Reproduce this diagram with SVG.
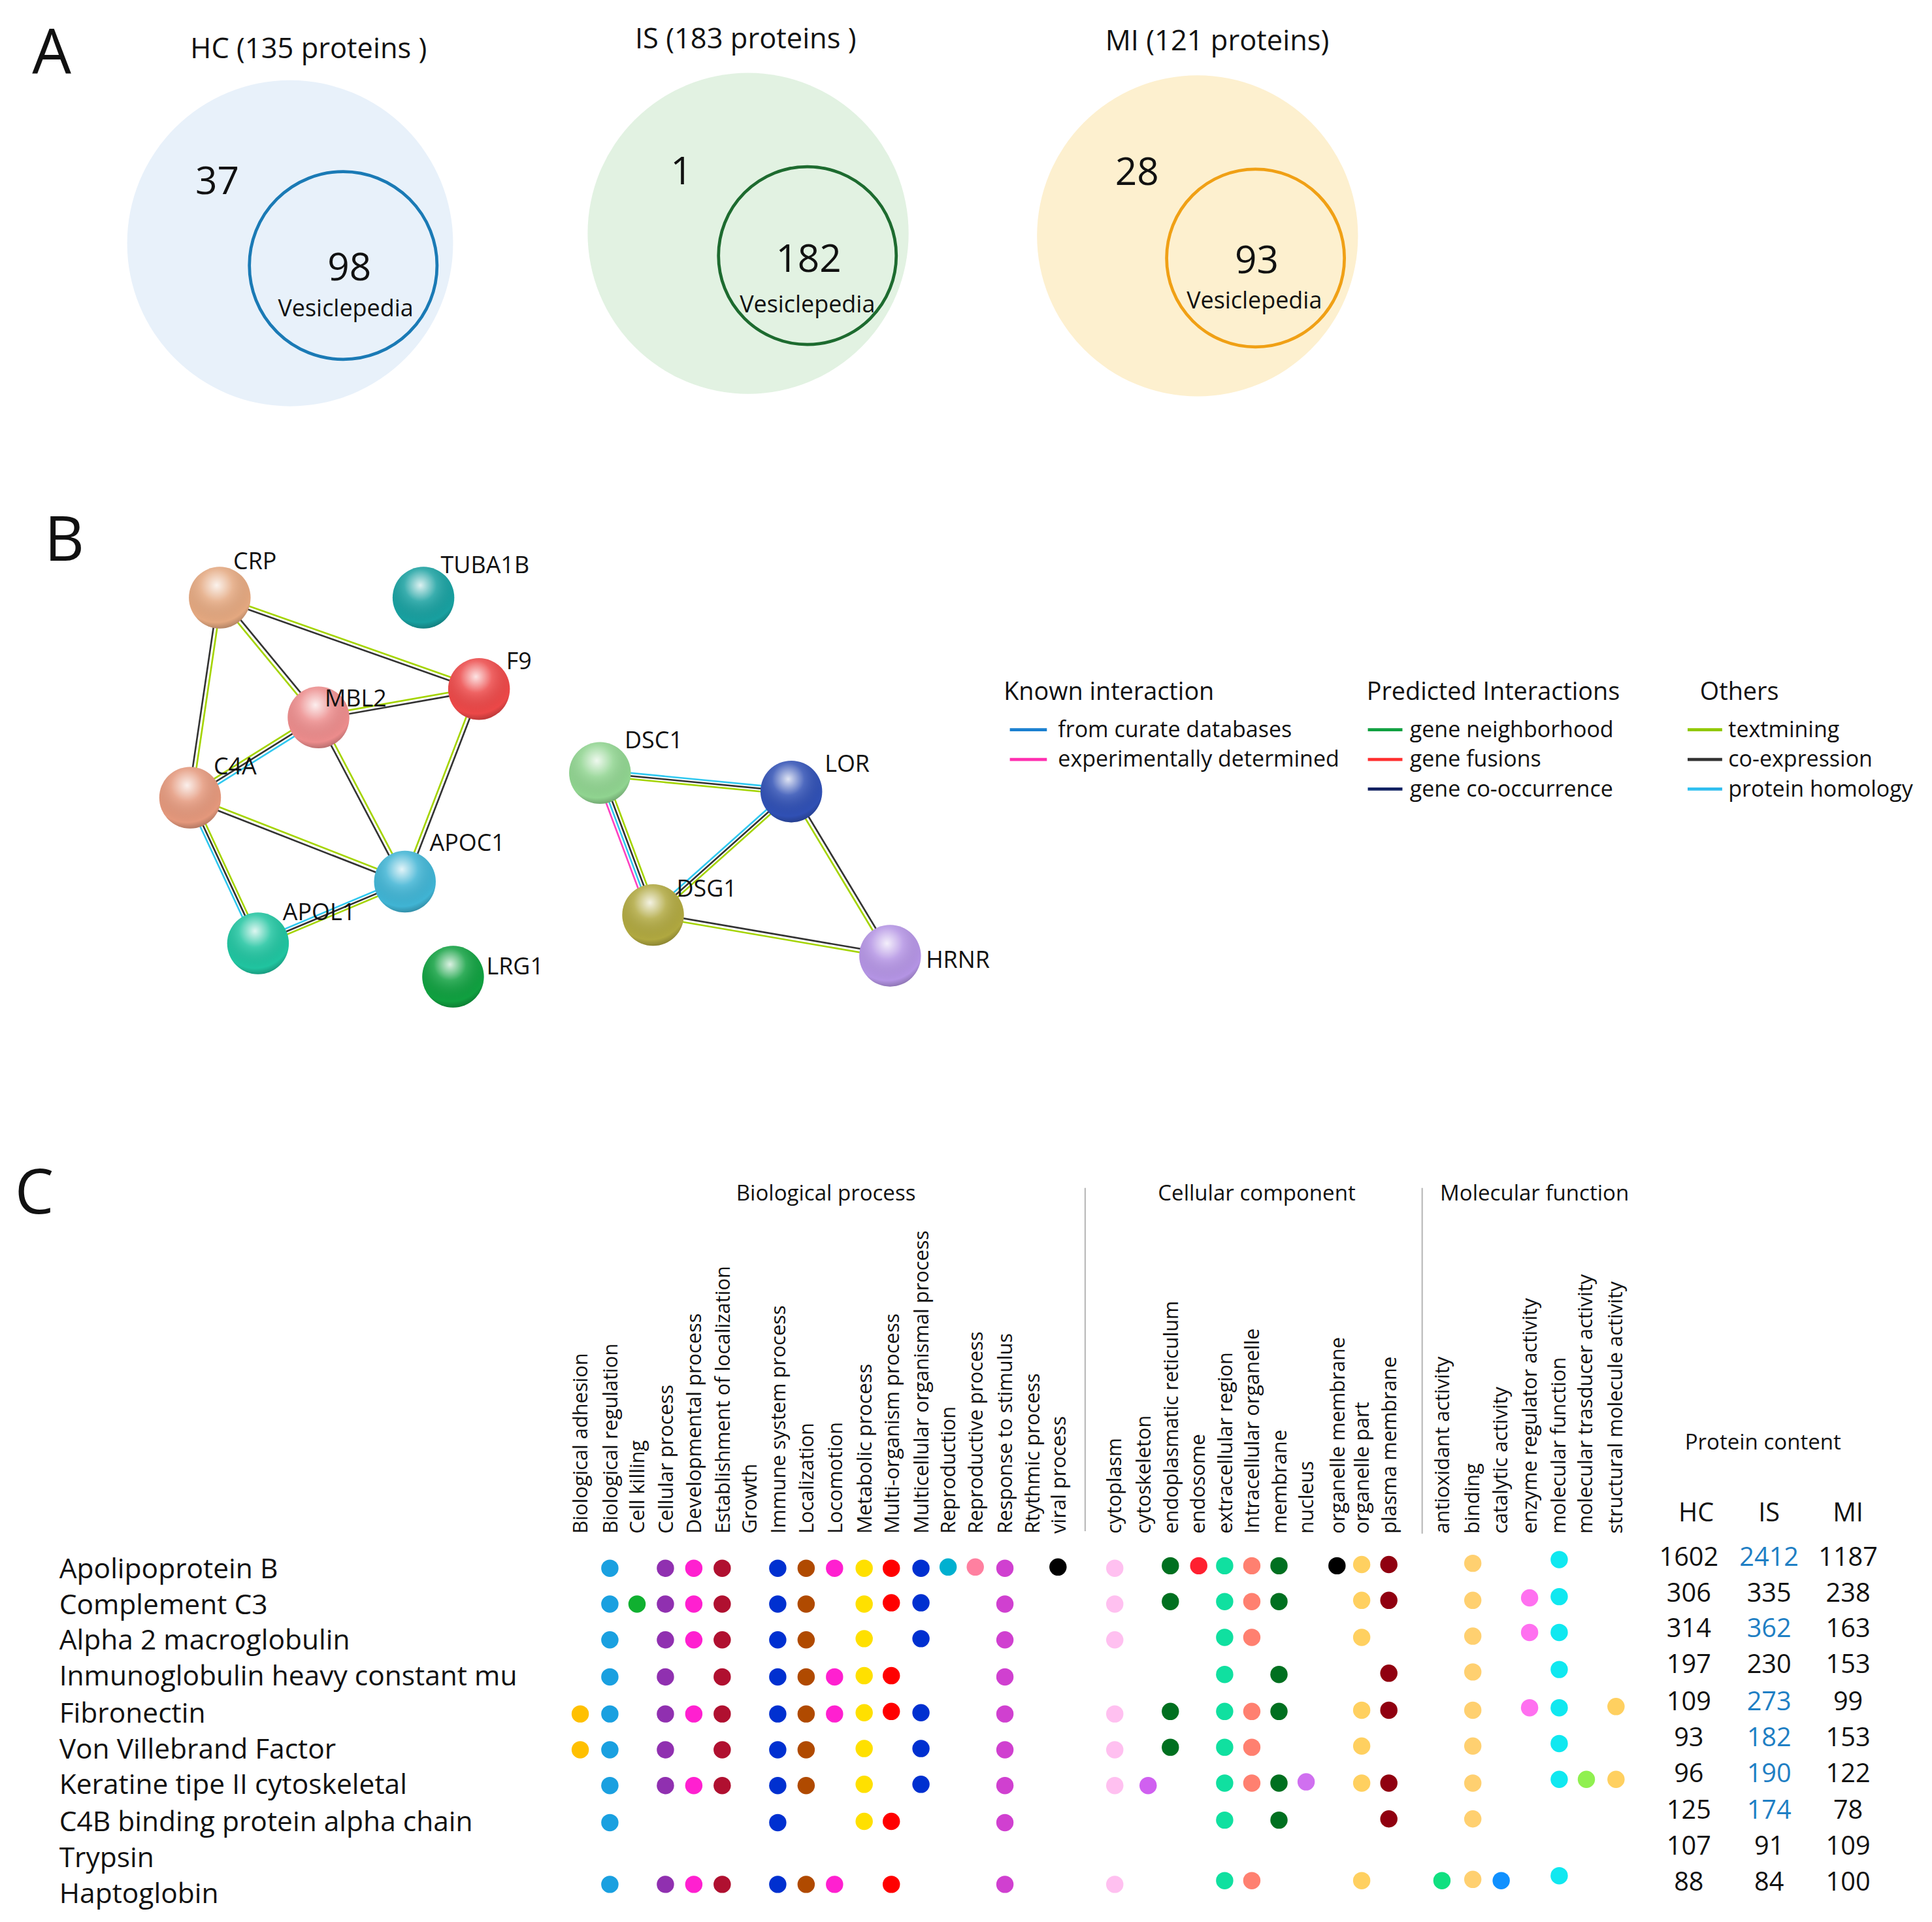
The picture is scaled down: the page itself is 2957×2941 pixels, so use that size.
<svg xmlns="http://www.w3.org/2000/svg" width="2957" height="2941" viewBox="0 0 2957 2941">
<style>
text{font-family:"Open Sans","Noto Sans","Liberation Sans",sans-serif;fill:#111}
.ttl{font-size:23px;text-anchor:middle}
.big{font-size:31px;text-anchor:middle}
.ves{font-size:19px;text-anchor:middle}
.pl{font-size:50px}
.nl{font-size:19px}
.lg{font-size:18px}
.lh{font-size:20px}
.g{stroke:#a4d400;stroke-width:1.4;fill:none}
.d{stroke:#333;stroke-width:1.4;fill:none}
.c{stroke:#30c8f0;stroke-width:1.4;fill:none}
.p{stroke:#ff40c0;stroke-width:1.4;fill:none}
.rl{font-size:22.5px}
.cl{font-size:16.3px}
.hd{font-size:17.5px;text-anchor:middle}
.num{font-size:21px;text-anchor:middle}
.b{fill:#1f7fc4}
</style>
<defs>
<radialGradient id="hl" cx="0.45" cy="0.3" r="0.75">
<stop offset="0" stop-color="#fff" stop-opacity="0.85"/>
<stop offset="0.35" stop-color="#fff" stop-opacity="0.15"/>
<stop offset="0.8" stop-color="#000" stop-opacity="0"/>
<stop offset="1" stop-color="#000" stop-opacity="0.3"/>
</radialGradient>
</defs>
<rect width="2957" height="2941" fill="#fff"/>
<g transform="scale(1.8895)">
<g id="panelA">
<text x="26" y="60" class="pl">A</text>
<g id="vennHC">
<circle cx="235" cy="197" r="132" fill="#e8f1fa"/>
<circle cx="278" cy="215" r="76" fill="none" stroke="#1a7ab5" stroke-width="2.5"/>
<text x="250" y="47" class="ttl">HC (135 proteins )</text>
<text x="176" y="157" class="big">37</text>
<text x="283" y="227" class="big">98</text>
<text x="280" y="256" class="ves">Vesiclepedia</text>
</g>
<g id="vennIS">
<circle cx="606" cy="189" r="130" fill="#e2f2e2"/>
<circle cx="654" cy="207" r="72" fill="none" stroke="#1d6b2f" stroke-width="2.5"/>
<text x="604" y="39" class="ttl">IS (183 proteins )</text>
<text x="552" y="149" class="big">1</text>
<text x="655" y="220" class="big">182</text>
<text x="654" y="253" class="ves">Vesiclepedia</text>
</g>
<g id="vennMI">
<circle cx="970" cy="191" r="130" fill="#fdf0cf"/>
<circle cx="1017" cy="209" r="72" fill="none" stroke="#f0a015" stroke-width="2.5"/>
<text x="986" y="41" class="ttl">MI (121 proteins)</text>
<text x="921" y="150" class="big">28</text>
<text x="1018" y="221" class="big">93</text>
<text x="1016" y="250" class="ves">Vesiclepedia</text>
</g>
</g>
<text x="36" y="454" class="pl">B</text>
<g id="connectors">
<line x1="178" y1="484" x2="388" y2="558" class="g" transform="translate(0,-1.5)"/><line x1="178" y1="484" x2="388" y2="558" class="d" transform="translate(0,1.5)"/>
<line x1="178" y1="484" x2="258" y2="581" class="g" transform="translate(-1.2,1)"/><line x1="178" y1="484" x2="258" y2="581" class="d" transform="translate(1.2,-1)"/>
<line x1="178" y1="484" x2="154" y2="646" class="g" transform="translate(1.5,0)"/><line x1="178" y1="484" x2="154" y2="646" class="d" transform="translate(-1.5,0)"/>
<line x1="258" y1="581" x2="388" y2="558" class="g" transform="translate(0,-1.5)"/><line x1="258" y1="581" x2="388" y2="558" class="d" transform="translate(0,1.5)"/>
<line x1="258" y1="581" x2="154" y2="646" class="g" transform="translate(-1.5,-2.2)"/><line x1="258" y1="581" x2="154" y2="646" class="d"/><line x1="258" y1="581" x2="154" y2="646" class="c" transform="translate(1.5,2.2)"/>
<line x1="258" y1="581" x2="328" y2="714" class="g" transform="translate(1.3,-0.7)"/><line x1="258" y1="581" x2="328" y2="714" class="d" transform="translate(-1.3,0.7)"/>
<line x1="388" y1="558" x2="328" y2="714" class="g" transform="translate(-1.4,-0.5)"/><line x1="388" y1="558" x2="328" y2="714" class="d" transform="translate(1.4,0.5)"/>
<line x1="154" y1="646" x2="328" y2="714" class="g" transform="translate(0.6,-1.4)"/><line x1="154" y1="646" x2="328" y2="714" class="d" transform="translate(-0.6,1.4)"/>
<line x1="154" y1="646" x2="209" y2="764" class="g" transform="translate(2.2,-1)"/><line x1="154" y1="646" x2="209" y2="764" class="d"/><line x1="154" y1="646" x2="209" y2="764" class="c" transform="translate(-2.2,1)"/>
<line x1="209" y1="764" x2="328" y2="714" class="g" transform="translate(0.9,2.2)"/><line x1="209" y1="764" x2="328" y2="714" class="d"/><line x1="209" y1="764" x2="328" y2="714" class="c" transform="translate(-0.9,-2.2)"/>
<line x1="486" y1="626" x2="641" y2="641" class="g" transform="translate(0,2.4)"/><line x1="486" y1="626" x2="641" y2="641" class="d"/><line x1="486" y1="626" x2="641" y2="641" class="c" transform="translate(0,-2.4)"/>
<line x1="486" y1="626" x2="529" y2="741" class="p" transform="translate(-3.6,1.2)"/><line x1="486" y1="626" x2="529" y2="741" class="c" transform="translate(-1.2,0.4)"/><line x1="486" y1="626" x2="529" y2="741" class="d" transform="translate(1.2,-0.4)"/><line x1="486" y1="626" x2="529" y2="741" class="g" transform="translate(3.6,-1.2)"/>
<line x1="641" y1="641" x2="529" y2="741" class="g" transform="translate(1.6,1.8)"/><line x1="641" y1="641" x2="529" y2="741" class="d"/><line x1="641" y1="641" x2="529" y2="741" class="c" transform="translate(-1.6,-1.8)"/>
<line x1="641" y1="641" x2="721" y2="774" class="g" transform="translate(-1.3,0.7)"/><line x1="641" y1="641" x2="721" y2="774" class="d" transform="translate(1.3,-0.7)"/>
<line x1="529" y1="741" x2="721" y2="774" class="g" transform="translate(0,1.5)"/><line x1="529" y1="741" x2="721" y2="774" class="d" transform="translate(0,-1.5)"/>
</g>
<g id="CRP"><circle cx="178" cy="484" r="25" fill="#e4a880"/><circle cx="178" cy="484" r="25" fill="url(#hl)"/><text x="189" y="461" class="nl">CRP</text></g>
<g id="TUBA1B"><circle cx="343" cy="484" r="25" fill="#18a0a0"/><circle cx="343" cy="484" r="25" fill="url(#hl)"/><text x="357" y="464" class="nl">TUBA1B</text></g>
<g id="F9"><circle cx="388" cy="558" r="25" fill="#ec4848"/><circle cx="388" cy="558" r="25" fill="url(#hl)"/><text x="410" y="542" class="nl">F9</text></g>
<g id="MBL2"><circle cx="258" cy="581" r="25" fill="#ec8c8c"/><circle cx="258" cy="581" r="25" fill="url(#hl)"/><text x="263" y="572" class="nl">MBL2</text></g>
<g id="C4A"><circle cx="154" cy="646" r="25" fill="#e4987c"/><circle cx="154" cy="646" r="25" fill="url(#hl)"/><text x="173" y="627" class="nl">C4A</text></g>
<g id="APOC1"><circle cx="328" cy="714" r="25" fill="#40b4d4"/><circle cx="328" cy="714" r="25" fill="url(#hl)"/><text x="348" y="689" class="nl">APOC1</text></g>
<g id="APOL1"><circle cx="209" cy="764" r="25" fill="#20c4a0"/><circle cx="209" cy="764" r="25" fill="url(#hl)"/><text x="229" y="745" class="nl">APOL1</text></g>
<g id="LRG1"><circle cx="367" cy="791" r="25" fill="#10a040"/><circle cx="367" cy="791" r="25" fill="url(#hl)"/><text x="394" y="789" class="nl">LRG1</text></g>
<g id="DSC1"><circle cx="486" cy="626" r="25" fill="#90d490"/><circle cx="486" cy="626" r="25" fill="url(#hl)"/><text x="506" y="606" class="nl">DSC1</text></g>
<g id="LOR"><circle cx="641" cy="641" r="25" fill="#3050b4"/><circle cx="641" cy="641" r="25" fill="url(#hl)"/><text x="668" y="625" class="nl">LOR</text></g>
<g id="DSG1"><circle cx="529" cy="741" r="25" fill="#b0a840"/><circle cx="529" cy="741" r="25" fill="url(#hl)"/><text x="548" y="726" class="nl">DSG1</text></g>
<g id="HRNR"><circle cx="721" cy="774" r="25" fill="#b494e4"/><circle cx="721" cy="774" r="25" fill="url(#hl)"/><text x="750" y="784" class="nl">HRNR</text></g>
<g id="legend">
<text x="813" y="567" class="lh">Known interaction</text>
<text x="1107" y="567" class="lh">Predicted Interactions</text>
<text x="1377" y="567" class="lh">Others</text>
<g stroke-width="2.5">
<line x1="818" y1="591" x2="848" y2="591" stroke="#1a80d0"/>
<line x1="818" y1="615" x2="848" y2="615" stroke="#ff30b0"/>
<line x1="1108" y1="591" x2="1136" y2="591" stroke="#10a040"/>
<line x1="1108" y1="615" x2="1136" y2="615" stroke="#ff3030"/>
<line x1="1108" y1="639" x2="1136" y2="639" stroke="#102060"/>
<line x1="1367" y1="591" x2="1395" y2="591" stroke="#90c800"/>
<line x1="1367" y1="615" x2="1395" y2="615" stroke="#333"/>
<line x1="1367" y1="639" x2="1395" y2="639" stroke="#30c0f0"/>
</g>
<text x="857" y="597" class="lg">from curate databases</text>
<text x="857" y="621" class="lg">experimentally determined</text>
<text x="1142" y="597" class="lg">gene neighborhood</text>
<text x="1142" y="621" class="lg">gene fusions</text>
<text x="1142" y="645" class="lg">gene co-occurrence</text>
<text x="1400" y="597" class="lg">textmining</text>
<text x="1400" y="621" class="lg">co-expression</text>
<text x="1400" y="645" class="lg">protein homology</text>
</g>
<g id="panelC">
<text x="12" y="983" class="pl">C</text>
<text x="669" y="972" class="hd">Biological process</text>
<text x="1018" y="972" class="hd">Cellular component</text>
<text x="1243" y="972" class="hd">Molecular function</text>
<line x1="879" y1="962" x2="879" y2="1240" stroke="#bbb" stroke-width="1.2"/>
<line x1="1152" y1="962" x2="1152" y2="1242" stroke="#bbb" stroke-width="1.2"/>
<g class="cl">
<text transform="translate(476,1242) rotate(-90)">Biological adhesion</text>
<text transform="translate(500,1242) rotate(-90)">Biological regulation</text>
<text transform="translate(522,1242) rotate(-90)">Cell killing</text>
<text transform="translate(545,1242) rotate(-90)">Cellular process</text>
<text transform="translate(568,1242) rotate(-90)">Developmental process</text>
<text transform="translate(591,1242) rotate(-90)">Establishment of localization</text>
<text transform="translate(613,1242) rotate(-90)">Growth</text>
<text transform="translate(636,1242) rotate(-90)">Immune system process</text>
<text transform="translate(659,1242) rotate(-90)">Localization</text>
<text transform="translate(682,1242) rotate(-90)">Locomotion</text>
<text transform="translate(706,1242) rotate(-90)">Metabolic process</text>
<text transform="translate(728,1242) rotate(-90)">Multi-organism process</text>
<text transform="translate(752,1242) rotate(-90)">Multicellular organismal process</text>
<text transform="translate(774,1242) rotate(-90)">Reproduction</text>
<text transform="translate(796,1242) rotate(-90)">Reproductive process</text>
<text transform="translate(820,1242) rotate(-90)">Response to stimulus</text>
<text transform="translate(842,1242) rotate(-90)">Rtythmic process</text>
<text transform="translate(863,1242) rotate(-90)">viral process</text>
<text transform="translate(908,1242) rotate(-90)">cytoplasm</text>
<text transform="translate(932,1242) rotate(-90)">cytoskeleton</text>
<text transform="translate(954,1242) rotate(-90)">endoplasmatic reticulum</text>
<text transform="translate(976,1242) rotate(-90)">endosome</text>
<text transform="translate(998,1242) rotate(-90)">extracellular region</text>
<text transform="translate(1020,1242) rotate(-90)">Intracellular organelle</text>
<text transform="translate(1042,1242) rotate(-90)">membrane</text>
<text transform="translate(1064,1242) rotate(-90)">nucleus</text>
<text transform="translate(1089,1242) rotate(-90)">organelle membrane</text>
<text transform="translate(1109,1242) rotate(-90)">organelle part</text>
<text transform="translate(1131,1242) rotate(-90)">plasma membrane</text>
<text transform="translate(1174,1242) rotate(-90)">antioxidant activity</text>
<text transform="translate(1198,1242) rotate(-90)">binding</text>
<text transform="translate(1221,1242) rotate(-90)">catalytic activity</text>
<text transform="translate(1245,1242) rotate(-90)">enzyme regulator activity</text>
<text transform="translate(1268,1242) rotate(-90)">molecular function</text>
<text transform="translate(1290,1242) rotate(-90)">molecular trasducer activity</text>
<text transform="translate(1314,1242) rotate(-90)">structural molecule activity</text>
</g>
<g class="rl">
<text x="48" y="1278">Apolipoprotein B</text>
<text x="48" y="1307">Complement C3</text>
<text x="48" y="1336">Alpha 2 macroglobulin</text>
<text x="48" y="1365">Inmunoglobulin heavy constant mu</text>
<text x="48" y="1395">Fibronectin</text>
<text x="48" y="1424">Von Villebrand Factor</text>
<text x="48" y="1453">Keratine tipe II cytoskeletal</text>
<text x="48" y="1483">C4B binding protein alpha chain</text>
<text x="48" y="1512">Trypsin</text>
<text x="48" y="1541">Haptoglobin</text>
</g>
<g id="dots">
<circle cx="494" cy="1270" r="7" fill="#1aa0e0"/><circle cx="539" cy="1270" r="7" fill="#9030b0"/><circle cx="562" cy="1270" r="7" fill="#ff20d0"/><circle cx="585" cy="1270" r="7" fill="#b01030"/><circle cx="630" cy="1270" r="7" fill="#0030d0"/><circle cx="653" cy="1270" r="7" fill="#b04a00"/><circle cx="676" cy="1270" r="7" fill="#ff20d0"/><circle cx="700" cy="1270" r="7" fill="#ffe000"/><circle cx="722" cy="1270" r="7" fill="#ff0000"/><circle cx="746" cy="1270" r="7" fill="#0030d0"/><circle cx="768" cy="1269" r="7" fill="#00b0d0"/><circle cx="790" cy="1269" r="7" fill="#ff80a0"/><circle cx="814" cy="1270" r="7" fill="#d040d0"/><circle cx="857" cy="1269" r="7" fill="#000"/>
<circle cx="903" cy="1270" r="7" fill="#ffc0f0"/><circle cx="948" cy="1268" r="7" fill="#007020"/><circle cx="971" cy="1268" r="7" fill="#ff2030"/><circle cx="992" cy="1268" r="7" fill="#10e0a0"/><circle cx="1014" cy="1268" r="7" fill="#ff8070"/><circle cx="1036" cy="1268" r="7" fill="#007020"/><circle cx="1083" cy="1268" r="7" fill="#000"/><circle cx="1103" cy="1267" r="7" fill="#ffd060"/><circle cx="1125" cy="1267" r="7" fill="#900010"/>
<circle cx="1193" cy="1266" r="7" fill="#ffd070"/><circle cx="1263" cy="1263" r="7" fill="#10e8f0"/>
<circle cx="494" cy="1299" r="7" fill="#1aa0e0"/><circle cx="516" cy="1299" r="7" fill="#10b030"/><circle cx="539" cy="1299" r="7" fill="#9030b0"/><circle cx="562" cy="1299" r="7" fill="#ff20d0"/><circle cx="585" cy="1299" r="7" fill="#b01030"/><circle cx="630" cy="1299" r="7" fill="#0030d0"/><circle cx="653" cy="1299" r="7" fill="#b04a00"/><circle cx="700" cy="1299" r="7" fill="#ffe000"/><circle cx="722" cy="1298" r="7" fill="#ff0000"/><circle cx="746" cy="1298" r="7" fill="#0030d0"/><circle cx="814" cy="1299" r="7" fill="#d040d0"/>
<circle cx="903" cy="1299" r="7" fill="#ffc0f0"/><circle cx="948" cy="1297" r="7" fill="#007020"/><circle cx="992" cy="1297" r="7" fill="#10e0a0"/><circle cx="1014" cy="1297" r="7" fill="#ff8070"/><circle cx="1036" cy="1297" r="7" fill="#007020"/><circle cx="1103" cy="1296" r="7" fill="#ffd060"/><circle cx="1125" cy="1296" r="7" fill="#900010"/>
<circle cx="1193" cy="1296" r="7" fill="#ffd070"/><circle cx="1239" cy="1294" r="7" fill="#ff70f0"/><circle cx="1263" cy="1293" r="7" fill="#10e8f0"/>
<circle cx="494" cy="1328" r="7" fill="#1aa0e0"/><circle cx="539" cy="1328" r="7" fill="#9030b0"/><circle cx="562" cy="1328" r="7" fill="#ff20d0"/><circle cx="585" cy="1328" r="7" fill="#b01030"/><circle cx="630" cy="1328" r="7" fill="#0030d0"/><circle cx="653" cy="1328" r="7" fill="#b04a00"/><circle cx="700" cy="1327" r="7" fill="#ffe000"/><circle cx="746" cy="1327" r="7" fill="#0030d0"/><circle cx="814" cy="1328" r="7" fill="#d040d0"/>
<circle cx="903" cy="1328" r="7" fill="#ffc0f0"/><circle cx="992" cy="1326" r="7" fill="#10e0a0"/><circle cx="1014" cy="1326" r="7" fill="#ff8070"/><circle cx="1103" cy="1326" r="7" fill="#ffd060"/>
<circle cx="1193" cy="1325" r="7" fill="#ffd070"/><circle cx="1239" cy="1322" r="7" fill="#ff70f0"/><circle cx="1263" cy="1322" r="7" fill="#10e8f0"/>
<circle cx="494" cy="1358" r="7" fill="#1aa0e0"/><circle cx="539" cy="1358" r="7" fill="#9030b0"/><circle cx="585" cy="1358" r="7" fill="#b01030"/><circle cx="630" cy="1358" r="7" fill="#0030d0"/><circle cx="653" cy="1358" r="7" fill="#b04a00"/><circle cx="676" cy="1358" r="7" fill="#ff20d0"/><circle cx="700" cy="1357" r="7" fill="#ffe000"/><circle cx="722" cy="1357" r="7" fill="#ff0000"/><circle cx="814" cy="1358" r="7" fill="#d040d0"/>
<circle cx="992" cy="1356" r="7" fill="#10e0a0"/><circle cx="1036" cy="1356" r="7" fill="#007020"/><circle cx="1125" cy="1355" r="7" fill="#900010"/>
<circle cx="1193" cy="1354" r="7" fill="#ffd070"/><circle cx="1263" cy="1352" r="7" fill="#10e8f0"/>
<circle cx="470" cy="1388" r="7" fill="#ffc000"/><circle cx="494" cy="1388" r="7" fill="#1aa0e0"/><circle cx="539" cy="1388" r="7" fill="#9030b0"/><circle cx="562" cy="1388" r="7" fill="#ff20d0"/><circle cx="585" cy="1388" r="7" fill="#b01030"/><circle cx="630" cy="1388" r="7" fill="#0030d0"/><circle cx="653" cy="1388" r="7" fill="#b04a00"/><circle cx="676" cy="1388" r="7" fill="#ff20d0"/><circle cx="700" cy="1387" r="7" fill="#ffe000"/><circle cx="722" cy="1386" r="7" fill="#ff0000"/><circle cx="746" cy="1387" r="7" fill="#0030d0"/><circle cx="814" cy="1388" r="7" fill="#d040d0"/>
<circle cx="903" cy="1388" r="7" fill="#ffc0f0"/><circle cx="948" cy="1386" r="7" fill="#007020"/><circle cx="992" cy="1386" r="7" fill="#10e0a0"/><circle cx="1014" cy="1386" r="7" fill="#ff8070"/><circle cx="1036" cy="1386" r="7" fill="#007020"/><circle cx="1103" cy="1385" r="7" fill="#ffd060"/><circle cx="1125" cy="1385" r="7" fill="#900010"/>
<circle cx="1193" cy="1385" r="7" fill="#ffd070"/><circle cx="1239" cy="1383" r="7" fill="#ff70f0"/><circle cx="1263" cy="1383" r="7" fill="#10e8f0"/><circle cx="1309" cy="1382" r="7" fill="#ffd060"/>
<circle cx="470" cy="1417" r="7" fill="#ffc000"/><circle cx="494" cy="1417" r="7" fill="#1aa0e0"/><circle cx="539" cy="1417" r="7" fill="#9030b0"/><circle cx="585" cy="1417" r="7" fill="#b01030"/><circle cx="630" cy="1417" r="7" fill="#0030d0"/><circle cx="653" cy="1417" r="7" fill="#b04a00"/><circle cx="700" cy="1416" r="7" fill="#ffe000"/><circle cx="746" cy="1416" r="7" fill="#0030d0"/><circle cx="814" cy="1417" r="7" fill="#d040d0"/>
<circle cx="903" cy="1417" r="7" fill="#ffc0f0"/><circle cx="948" cy="1415" r="7" fill="#007020"/><circle cx="992" cy="1415" r="7" fill="#10e0a0"/><circle cx="1014" cy="1415" r="7" fill="#ff8070"/><circle cx="1103" cy="1414" r="7" fill="#ffd060"/>
<circle cx="1193" cy="1414" r="7" fill="#ffd070"/><circle cx="1263" cy="1412" r="7" fill="#10e8f0"/>
<circle cx="494" cy="1446" r="7" fill="#1aa0e0"/><circle cx="539" cy="1446" r="7" fill="#9030b0"/><circle cx="562" cy="1446" r="7" fill="#ff20d0"/><circle cx="585" cy="1446" r="7" fill="#b01030"/><circle cx="630" cy="1446" r="7" fill="#0030d0"/><circle cx="653" cy="1446" r="7" fill="#b04a00"/><circle cx="700" cy="1445" r="7" fill="#ffe000"/><circle cx="746" cy="1445" r="7" fill="#0030d0"/><circle cx="814" cy="1446" r="7" fill="#d040d0"/>
<circle cx="903" cy="1446" r="7" fill="#ffc0f0"/><circle cx="930" cy="1446" r="7" fill="#d060f0"/><circle cx="992" cy="1444" r="7" fill="#10e0a0"/><circle cx="1014" cy="1444" r="7" fill="#ff8070"/><circle cx="1036" cy="1444" r="7" fill="#007020"/><circle cx="1058" cy="1443" r="7" fill="#d070f0"/><circle cx="1103" cy="1444" r="7" fill="#ffd060"/><circle cx="1125" cy="1444" r="7" fill="#900010"/>
<circle cx="1193" cy="1444" r="7" fill="#ffd070"/><circle cx="1263" cy="1441" r="7" fill="#10e8f0"/><circle cx="1285" cy="1441" r="7" fill="#90f050"/><circle cx="1309" cy="1441" r="7" fill="#ffd060"/>
<circle cx="494" cy="1476" r="7" fill="#1aa0e0"/><circle cx="630" cy="1476" r="7" fill="#0030d0"/><circle cx="700" cy="1475" r="7" fill="#ffe000"/><circle cx="722" cy="1475" r="7" fill="#ff0000"/><circle cx="814" cy="1476" r="7" fill="#d040d0"/>
<circle cx="992" cy="1474" r="7" fill="#10e0a0"/><circle cx="1036" cy="1474" r="7" fill="#007020"/><circle cx="1125" cy="1473" r="7" fill="#900010"/>
<circle cx="1193" cy="1473" r="7" fill="#ffd070"/>
<circle cx="494" cy="1526" r="7" fill="#1aa0e0"/><circle cx="539" cy="1526" r="7" fill="#9030b0"/><circle cx="562" cy="1526" r="7" fill="#ff20d0"/><circle cx="585" cy="1526" r="7" fill="#b01030"/><circle cx="630" cy="1526" r="7" fill="#0030d0"/><circle cx="653" cy="1526" r="7" fill="#b04a00"/><circle cx="676" cy="1526" r="7" fill="#ff20d0"/><circle cx="722" cy="1526" r="7" fill="#ff0000"/><circle cx="814" cy="1526" r="7" fill="#d040d0"/>
<circle cx="903" cy="1526" r="7" fill="#ffc0f0"/><circle cx="992" cy="1523" r="7" fill="#10e0a0"/><circle cx="1014" cy="1523" r="7" fill="#ff8070"/><circle cx="1103" cy="1523" r="7" fill="#ffd060"/>
<circle cx="1168" cy="1523" r="7" fill="#10e080"/><circle cx="1193" cy="1522" r="7" fill="#ffd070"/><circle cx="1216" cy="1523" r="7" fill="#1090ff"/><circle cx="1263" cy="1519" r="7" fill="#10e8f0"/>
</g>
<g id="proteinContent">
<text x="1428" y="1174" class="hd">Protein content</text>
<text x="1374" y="1232" class="num" font-size="24">HC</text>
<text x="1433" y="1232" class="num" font-size="24">IS</text>
<text x="1497" y="1232" class="num" font-size="24">MI</text>
<text x="1368" y="1268" class="num">1602</text><text x="1433" y="1268" class="num b">2412</text><text x="1497" y="1268" class="num">1187</text>
<text x="1368" y="1297" class="num">306</text><text x="1433" y="1297" class="num">335</text><text x="1497" y="1297" class="num">238</text>
<text x="1368" y="1326" class="num">314</text><text x="1433" y="1326" class="num b">362</text><text x="1497" y="1326" class="num">163</text>
<text x="1368" y="1355" class="num">197</text><text x="1433" y="1355" class="num">230</text><text x="1497" y="1355" class="num">153</text>
<text x="1368" y="1385" class="num">109</text><text x="1433" y="1385" class="num b">273</text><text x="1497" y="1385" class="num">99</text>
<text x="1368" y="1414" class="num">93</text><text x="1433" y="1414" class="num b">182</text><text x="1497" y="1414" class="num">153</text>
<text x="1368" y="1443" class="num">96</text><text x="1433" y="1443" class="num b">190</text><text x="1497" y="1443" class="num">122</text>
<text x="1368" y="1473" class="num">125</text><text x="1433" y="1473" class="num b">174</text><text x="1497" y="1473" class="num">78</text>
<text x="1368" y="1502" class="num">107</text><text x="1433" y="1502" class="num">91</text><text x="1497" y="1502" class="num">109</text>
<text x="1368" y="1531" class="num">88</text><text x="1433" y="1531" class="num">84</text><text x="1497" y="1531" class="num">100</text>
</g>
</g>
</g>
</svg>
